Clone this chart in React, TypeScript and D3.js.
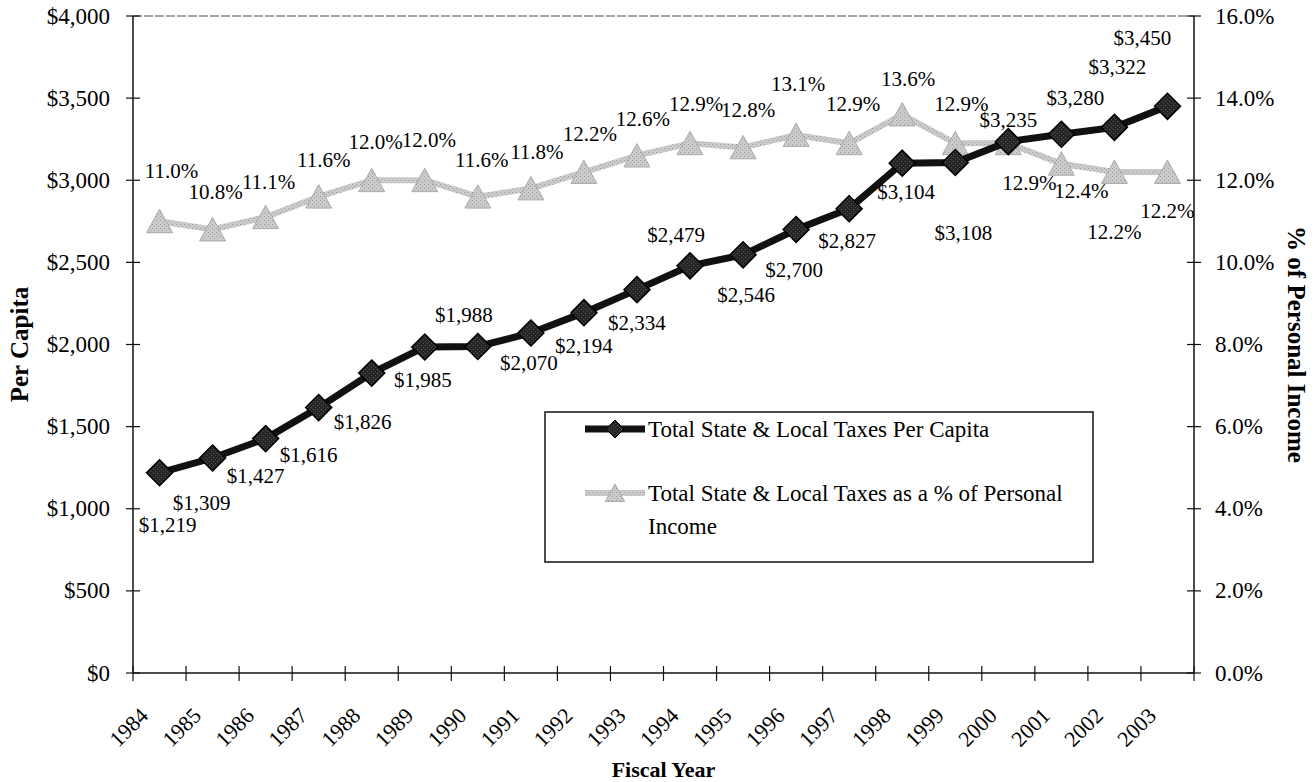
import React, { useEffect } from "react";
import * as d3 from "d3";

// fiscal years and the two series
const years = ["1984", "1985", "1986", "1987", "1988", "1989", "1990", "1991", "1992", "1993",
  "1994", "1995", "1996", "1997", "1998", "1999", "2000", "2001", "2002", "2003"];
const perCapita = [1219, 1309, 1427, 1616, 1826, 1985, 1988, 2070, 2194, 2334,
  2479, 2546, 2700, 2827, 3104, 3108, 3235, 3280, 3322, 3450];
const pctIncome = [11.0, 10.8, 11.1, 11.6, 12.0, 12.0, 11.6, 11.8, 12.2, 12.6,
  12.9, 12.8, 13.1, 12.9, 13.6, 12.9, 12.9, 12.4, 12.2, 12.2];
const leftTicks = [0, 500, 1000, 1500, 2000, 2500, 3000, 3500, 4000];
const rightTicks = [0, 2, 4, 6, 8, 10, 12, 14, 16];
const seriesNames = ["Total State & Local Taxes Per Capita", "Total State & Local Taxes as a % of Personal", "Income"];

// label nudges (dx, dy) from each point, as placed by hand in the original
const pcLabelOff = [[8, 52], [-11, 45], [-10, 37], [-10, 47], [-9, 49], [-2, 33], [-14, -31], [-2, 30], [0, 33], [0, 33],
  [-14, -31], [3, 40], [-2, 40], [-2, 32], [4, 29], [8, 70], [0, -22], [14, -36], [3, -60], [-25, -68]];
const pctLabelOff = [[12, -50], [3, -38], [3, -35], [5, -37], [4, -38], [4, -40], [4, -37], [6, -36], [6, -38], [6, -37],
  [6, -39], [5, -37], [2, -51], [4, -39], [6, -36], [6, -39], [21, 40], [20, 27], [0, 60], [0, 39]];

const W = 1314, H = 782;
const left = 133, right = 1194, top = 16, bottom = 673;
const font = '"Liberation Serif", "Times New Roman", Times, "DejaVu Serif", serif';

export default function App() {
  useEffect(() => {
    document.body.style.margin = "0";
  }, []);

  const x = d3.scaleBand<string>().domain(years).range([left, right]);
  const yL = d3.scaleLinear().domain([0, 4000]).range([bottom, top]);
  const yR = d3.scaleLinear().domain([0, 16]).range([bottom, top]);
  const cx = (i: number) => (x(years[i]) as number) + x.bandwidth() / 2;

  const pcLine = d3.line<number>().x((d, i) => cx(i)).y((d) => yL(d));
  const pctLine = d3.line<number>().x((d, i) => cx(i)).y((d) => yR(d));

  const diamond = (px: number, py: number, r: number) =>
    `M${px},${py - r}L${px + r},${py}L${px},${py + r}L${px - r},${py}Z`;
  const tri = (px: number, py: number, s: number) =>
    `M${px},${py - s}L${px + s * 1.08},${py + s * 0.95}L${px - s * 1.08},${py + s * 0.95}Z`;

  const fmtD = d3.format("$,");
  const tickEdges = years.map((y) => x(y) as number).concat([right]);

  const legX = 545, legY = 412, legW = 548, legH = 150;

  return (
    <svg width={W} height={H} style={{ display: "block", background: "#fff", fontFamily: font }}>
      <defs>
        {/* speckled fills, like the scanned original */}
        <pattern id="grayTex" width="4" height="4" patternUnits="userSpaceOnUse">
          <rect width="4" height="4" fill="#cbcbcb" />
          <rect x="0" y="0" width="1" height="1" fill="#9a9a9a" />
          <rect x="2" y="2" width="1" height="1" fill="#a8a8a8" />
        </pattern>
        <pattern id="darkTex" width="4" height="4" patternUnits="userSpaceOnUse">
          <rect width="4" height="4" fill="#262626" />
          <rect x="1" y="1" width="1" height="1" fill="#5a5a5a" />
          <rect x="3" y="3" width="1" height="1" fill="#4a4a4a" />
        </pattern>
      </defs>

      {/* top border of plot */}
      <line x1={left} x2={right} y1={top} y2={top} stroke="#888" strokeWidth={1.3} strokeDasharray="9 2" />
      {/* axes */}
      <line x1={left} x2={left} y1={top} y2={bottom} stroke="#111" strokeWidth={1.5} />
      <line x1={right} x2={right} y1={top} y2={bottom} stroke="#111" strokeWidth={1.5} />
      <line x1={left} x2={right} y1={bottom} y2={bottom} stroke="#111" strokeWidth={1.5} />
      {leftTicks.map((t) => (
        <g key={"l" + t}>
          <line x1={left - 7} x2={left + 7} y1={yL(t)} y2={yL(t)} stroke="#111" strokeWidth={1.2} />
          <text x={left - 23} y={yL(t)} textAnchor="end" dominantBaseline="central" fontSize={23}>
            {fmtD(t)}
          </text>
        </g>
      ))}
      {rightTicks.map((t) => (
        <g key={"r" + t}>
          <line x1={right - 7} x2={right + 7} y1={yR(t)} y2={yR(t)} stroke="#111" strokeWidth={1.2} />
          <text x={right + 21} y={yR(t)} textAnchor="start" dominantBaseline="central" fontSize={23}>
            {t.toFixed(1) + "%"}
          </text>
        </g>
      ))}
      {tickEdges.map((e, i) => (
        <line key={"b" + i} x1={e} x2={e} y1={bottom - 7} y2={bottom + 8} stroke="#111" strokeWidth={1.2} />
      ))}
      {years.map((y, i) => (
        <text key={"x" + y} transform={`translate(${cx(i) - 10},${bottom + 44}) rotate(-45)`}
          textAnchor="end" fontSize={22}>{y}</text>
      ))}

      {/* axis titles */}
      <text transform={`translate(28,${(top + bottom) / 2}) rotate(-90)`} textAnchor="middle"
        fontSize={25} fontWeight="bold">Per Capita</text>
      <text transform={`translate(1288,${(top + bottom) / 2}) rotate(90)`} textAnchor="middle"
        fontSize={25} fontWeight="bold">% of Personal Income</text>
      <text x={(left + right) / 2} y={777} textAnchor="middle" fontSize={22} fontWeight="bold">Fiscal Year</text>

      {/* % of personal income series */}
      <path d={pctLine(pctIncome) as string} fill="none" stroke="url(#grayTex)" strokeWidth={6} />
      {pctIncome.map((v, i) => (
        <path key={"t" + i} d={tri(cx(i), yR(v), 12)} fill="url(#grayTex)" stroke="#aaa" strokeWidth={1} />
      ))}

      {/* per capita series */}
      <path d={pcLine(perCapita) as string} fill="none" stroke="#111" strokeWidth={7} />
      {perCapita.map((v, i) => (
        <path key={"d" + i} d={diamond(cx(i), yL(v), 13)} fill="url(#darkTex)" stroke="#000" strokeWidth={1.5} />
      ))}

      {/* data labels */}
      {pctIncome.map((v, i) => (
        <text key={"pl" + i} x={cx(i) + pctLabelOff[i][0]} y={yR(v) + pctLabelOff[i][1]}
          textAnchor="middle" dominantBaseline="central" fontSize={21}>{v.toFixed(1) + "%"}</text>
      ))}
      {perCapita.map((v, i) => (
        <text key={"cl" + i} x={cx(i) + pcLabelOff[i][0]} y={yL(v) + pcLabelOff[i][1]}
          textAnchor="middle" dominantBaseline="central" fontSize={21}>{fmtD(v)}</text>
      ))}

      {/* legend */}
      <rect x={legX} y={legY} width={legW} height={legH} fill="#fff" stroke="#111" strokeWidth={1.5} />
      <line x1={legX + 40} x2={legX + 100} y1={legY + 17} y2={legY + 17} stroke="#111" strokeWidth={7} />
      <path d={diamond(legX + 70, legY + 17, 9)} fill="url(#darkTex)" stroke="#000" />
      <text x={legX + 103} y={legY + 17} dominantBaseline="central" fontSize={23}>{seriesNames[0]}</text>
      <line x1={legX + 40} x2={legX + 100} y1={legY + 81} y2={legY + 81} stroke="url(#grayTex)" strokeWidth={6} />
      <path d={tri(legX + 70, legY + 81, 9)} fill="url(#grayTex)" stroke="#aaa" />
      <text x={legX + 103} y={legY + 81} dominantBaseline="central" fontSize={23}>{seriesNames[1]}</text>
      <text x={legX + 103} y={legY + 114} dominantBaseline="central" fontSize={23}>{seriesNames[2]}</text>
    </svg>
  );
}
